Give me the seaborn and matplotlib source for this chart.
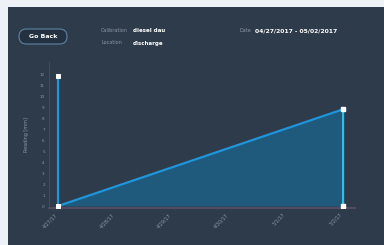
import pandas as pd
import seaborn as sns
import matplotlib.pyplot as plt
import matplotlib.transforms as mtransforms
from matplotlib.patches import FancyBboxPatch, Rectangle

# readings as drawn (path goes up/down the verticals)
dates = ["2017-04-27", "2017-04-27", "2017-05-02", "2017-05-02"]
readings = [11.8, 0.0, 8.8, 0.0]
tick_dates = ["2017-04-27", "2017-04-28", "2017-04-29", "2017-04-30", "2017-05-01", "2017-05-02"]
tick_labels = ["4/27/17", "4/28/17", "4/29/17", "4/30/17", "5/1/17", "5/2/17"]
y_ticks = list(range(0, 13))

df = pd.DataFrame({"date": pd.to_datetime(dates), "reading": readings})

bg = "#2e3b4b"
fig = plt.figure(figsize=(3.84, 2.45), dpi=100)
fig.patch.set_facecolor("#eef2f6")
fig.patches.append(Rectangle((8 / 384, 0), 1, 1 - 7 / 245, transform=fig.transFigure,
                             facecolor=bg, edgecolor="none", zorder=-5))

# header
fig.patches.append(FancyBboxPatch((19, 245 - 44), 48, 15,
                                  boxstyle="round,pad=0,rounding_size=7.5",
                                  transform=mtransforms.IdentityTransform(), facecolor="#243140",
                                  edgecolor="#5f83a3", linewidth=0.8, zorder=1))
fig.text(43 / 384, 1 - 36.5 / 245, "Go Back", color="white", fontsize=4.5,
         ha="center", va="center", fontweight="bold")
fig.text(101 / 384, 1 - 31 / 245, "Calibration", color="#8b97a6", fontsize=3.5, va="center")
fig.text(133 / 384, 1 - 31 / 245, "diesel dau", color="white", fontsize=4, va="center", fontweight="bold")
fig.text(101 / 384, 1 - 43 / 245, "Location", color="#8b97a6", fontsize=3.5, va="center")
fig.text(133 / 384, 1 - 43 / 245, "discharge", color="white", fontsize=4, va="center", fontweight="bold")
fig.text(239 / 384, 1 - 31 / 245, "Date", color="#8b97a6", fontsize=3.5, va="center")
fig.text(255 / 384, 1 - 31 / 245, "04/27/2017 - 05/02/2017", color="white", fontsize=4.3,
         va="center", fontweight="bold")

ax = fig.add_axes([49 / 384, 1 - 208 / 245, 306 / 384, 146 / 245])
ax.set_facecolor(bg)

fill_x = df["date"].iloc[1:]
fill_y = df["reading"].iloc[1:].copy()
fill_y.iloc[-1] = df["reading"].iloc[2]
ax.fill_between(fill_x, 0, fill_y, color="#1f5c80", alpha=0.95, zorder=1, linewidth=0)

sns.lineplot(data=df, x="date", y="reading", sort=False, estimator=None, ax=ax,
             color="#1e96dc", linewidth=1.6, marker="s", markersize=3.5,
             markerfacecolor="white", markeredgecolor="white", zorder=3)
ax.plot(df["date"].iloc[2:], df["reading"].iloc[2:], color="#3cc6e6", linewidth=1.2, zorder=3)
ax.plot(df["date"].iloc[2:], df["reading"].iloc[2:], "s", color="white", markersize=3.5, zorder=4)

ax.set_xlim(pd.Timestamp("2017-04-26 20:12"), pd.Timestamp("2017-05-02 05:00"))
ax.set_ylim(-0.18, 13.1)
ax.set_yticks(y_ticks)
ax.set_yticklabels([str(v) for v in y_ticks], fontsize=3, color="#8b97a6")
# labels sit a few pixels above their gridline in the original
shift = mtransforms.ScaledTranslation(0, 4 / 100, fig.dpi_scale_trans)
for lab in ax.get_yticklabels():
    lab.set_transform(lab.get_transform() + shift)
ax.set_xticks(pd.to_datetime(tick_dates))
ax.set_xticklabels(tick_labels, rotation=45, ha="right", fontsize=3.5, color="#8b97a6")
ax.tick_params(length=0, pad=3)
ax.set_xlabel("")
ax.set_ylabel("Reading [mm]", fontsize=3.5, color="#8b97a6", labelpad=8)
for side in ["top", "right"]:
    ax.spines[side].set_visible(False)
ax.spines["left"].set_color("#46505e")
ax.spines["left"].set_linewidth(0.6)
ax.spines["bottom"].set_color("#5a4f66")
ax.spines["bottom"].set_linewidth(1.2)

fig.savefig("out.png", dpi=100, facecolor=fig.get_facecolor())
